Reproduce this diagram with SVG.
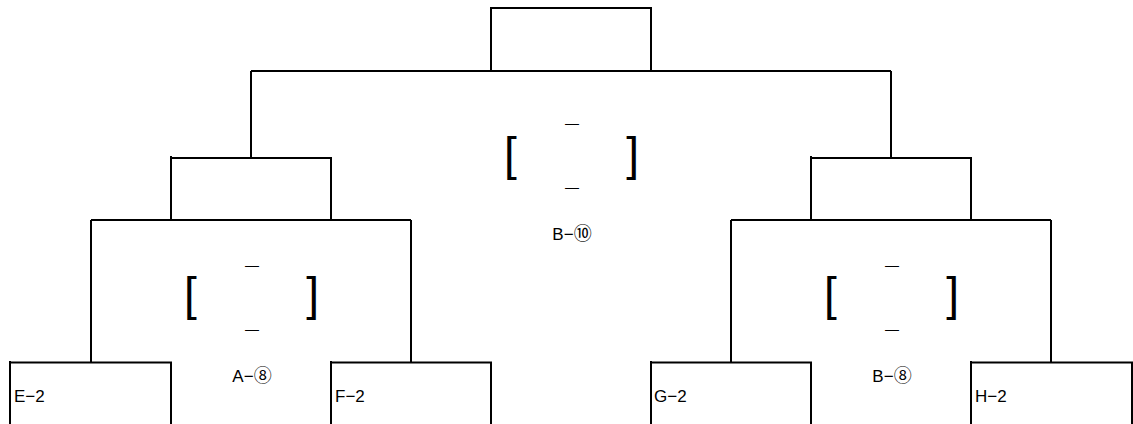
<svg xmlns="http://www.w3.org/2000/svg" width="1133" height="424" viewBox="0 0 1133 424">
<style>
.box{fill:none;stroke:#000;stroke-width:2}
.con{fill:none;stroke:#000;stroke-width:2}
.lbl{font-family:"Liberation Sans","Noto Sans CJK JP",sans-serif;font-size:17px;fill:#000}
.cn{font-family:"Noto Sans CJK JP",sans-serif;font-size:18px}
.br{font-family:"Liberation Sans",sans-serif;font-size:46px;fill:#000}
.dash{font-family:"Liberation Sans",sans-serif;font-size:14px;fill:#000;text-anchor:middle}
.mid{text-anchor:middle}
</style>
<rect width="1133" height="424" fill="#fff"/>
<g id="connectors">
<path class="con" d="M251,71 H891 M251,71 V158 M891,71 V158"/>
<path class="con" d="M91,220 H411 M91,220 V362 M411,220 V362"/>
<path class="con" d="M731,220 H1051 M731,220 V362 M1051,220 V362"/>
</g>
<g id="node-top">
<rect class="box" x="491" y="8" width="160" height="63"/>
</g>
<g id="node-left">
<path class="box" d="M171,156 V220 M171,158 H331 V220"/>
</g>
<g id="node-right">
<path class="box" d="M811,156 V220 M811,158 H971 V220"/>
</g>
<g id="leaf-e2">
<path class="box" d="M10,361 V430 M10,362.5 H171 V430"/>
<text class="lbl" x="14" y="402">E−2</text>
</g>
<g id="leaf-f2">
<path class="box" d="M331,361 V430 M331,362.5 H491 V430"/>
<text class="lbl" x="335" y="402">F−2</text>
</g>
<g id="leaf-g2">
<path class="box" d="M651,361 V430 M651,362.5 H811 V430"/>
<text class="lbl" x="654" y="402">G−2</text>
</g>
<g id="leaf-h2">
<path class="box" d="M971,361 V430 M971,362.5 H1132 V430"/>
<text class="lbl" x="975" y="402">H−2</text>
</g>
<g id="bracket-b10">
<text class="dash" x="572" y="128">—</text>
<text class="br" x="504" y="170">[</text>
<text class="br" x="639" y="170" text-anchor="end">]</text>
<text class="dash" x="572" y="192">—</text>
<text class="lbl mid" x="572" y="239.5">B−<tspan class="cn">⑩</tspan></text>
</g>
<g id="bracket-a8">
<text class="dash" x="252" y="270">—</text>
<text class="br" x="184" y="310">[</text>
<text class="br" x="319" y="310" text-anchor="end">]</text>
<text class="dash" x="252" y="334">—</text>
<text class="lbl mid" x="252" y="382">A−<tspan class="cn">⑧</tspan></text>
</g>
<g id="bracket-b8">
<text class="dash" x="892" y="270">—</text>
<text class="br" x="824" y="310">[</text>
<text class="br" x="959" y="310" text-anchor="end">]</text>
<text class="dash" x="892" y="334">—</text>
<text class="lbl mid" x="892" y="382">B−<tspan class="cn">⑧</tspan></text>
</g>
</svg>
